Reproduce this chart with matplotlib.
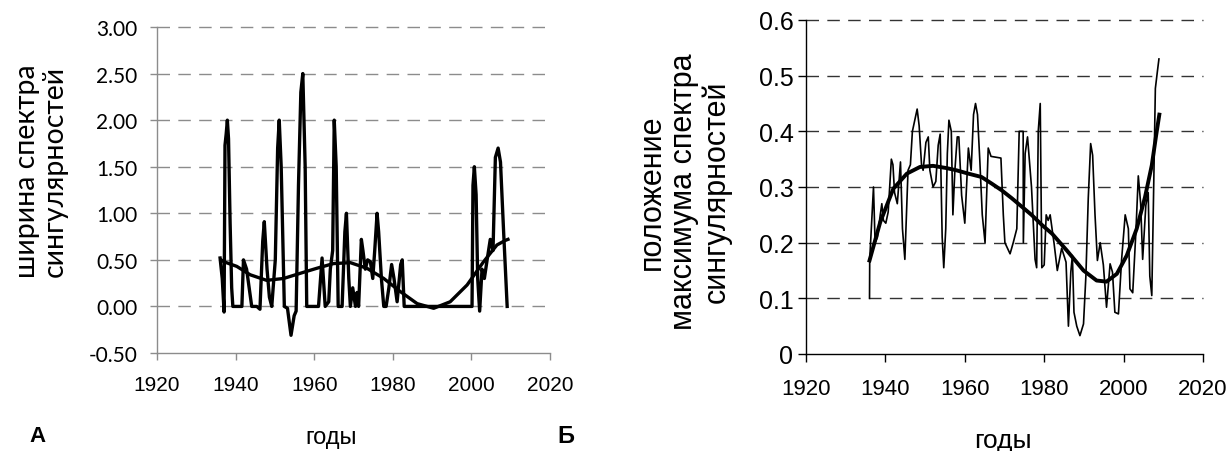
import matplotlib
matplotlib.use("Agg")
import matplotlib.pyplot as plt
import numpy as np

# ---- Panel A data (ширина спектра сингулярностей) ----
a_years = [1936.05, 1936.6, 1937.07, 1937.3, 1937.6, 1937.9, 1938.2, 1938.6, 1939.0, 1939.3,
           1941.6, 1942.0, 1942.8, 1944.1, 1945.4, 1946.2, 1946.9, 1947.3, 1948.0, 1948.6,
           1949.2, 1950.1, 1950.7, 1951.1, 1951.6, 1952.4, 1953.2, 1954.1, 1954.9, 1955.4,
           1956.0, 1956.6, 1957.1, 1957.7, 1958.1, 1961.1, 1962.0, 1962.8, 1963.7, 1964.1,
           1964.7, 1965.1, 1965.6, 1966.1, 1967.1, 1967.8, 1968.2, 1968.8, 1969.2, 1969.8,
           1970.5, 1970.9, 1971.3, 1972.0, 1972.4, 1973.0, 1973.6, 1974.3, 1974.9, 1975.4,
           1976.0, 1976.4, 1977.1, 1977.7, 1978.3, 1979.0, 1979.7, 1980.3, 1981.1, 1982.0,
           1982.4, 1982.9, 1990.0, 2000.16, 2000.4, 2000.75, 2001.2, 2001.6, 2002.1, 2002.7,
           2003.3, 2004.0, 2004.8, 2005.5, 2006.1, 2006.8, 2007.4, 2008.2, 2009.1]
a_values = [0.52, 0.30, -0.06, 1.73, 1.85, 2.00, 1.80, 0.90, 0.20, 0.00,
            0.00, 0.50, 0.40, 0.00, 0.00, -0.03, 0.70, 0.91, 0.40, 0.10,
            0.00, 0.50, 1.70, 2.00, 1.50, 0.00, -0.02, -0.31, -0.10, -0.05,
            1.30, 2.30, 2.50, 1.50, 0.00, 0.00, 0.52, 0.00, 0.05, 0.40,
            0.60, 2.00, 1.50, 0.00, 0.00, 0.80, 1.00, 0.30, 0.00, 0.20,
            0.00, 0.15, 0.00, 0.72, 0.60, 0.40, 0.50, 0.48, 0.30, 0.60,
            1.00, 0.80, 0.30, 0.00, 0.00, 0.20, 0.45, 0.30, 0.05, 0.45,
            0.50, 0.00, 0.00, 0.00, 1.30, 1.50, 1.20, 0.30, -0.05, 0.40,
            0.30, 0.50, 0.72, 0.60, 1.60, 1.70, 1.55, 0.80, 0.00]
a_trend_years = [1936.3, 1937, 1940.3, 1943.7, 1947.9, 1952.2, 1956.4, 1960.7, 1964.9, 1969.2,
                 1973.4, 1977.7, 1981.9, 1986.2, 1990.4, 1994.6, 1998.9, 2003.1, 2006.5, 2008.7, 2009.3]
a_trend_values = [0.50, 0.48, 0.43, 0.34, 0.28, 0.30, 0.355, 0.41, 0.46, 0.47,
                  0.41, 0.30, 0.16, 0.03, -0.02, 0.05, 0.23, 0.48, 0.66, 0.71, 0.72]

# ---- Panel Б data (положение максимума спектра сингулярностей) ----
b_years = [1936.0, 1936.05, 1937.0, 1937.4, 1938.0, 1938.7, 1939.1, 1939.5, 1940.1, 1940.7,
           1941.5, 1941.9, 1942.3, 1943.0, 1943.8, 1944.3, 1944.9, 1945.3, 1945.7, 1946.3,
           1946.8, 1947.4, 1948.0, 1948.5, 1949.1, 1949.5, 1950.2, 1950.8, 1951.2, 1952.0,
           1952.7, 1953.3, 1953.8, 1954.3, 1954.7, 1955.2, 1955.6, 1956.0, 1956.6, 1957.0,
           1957.5, 1958.1, 1958.5, 1959.2, 1960.0, 1960.9, 1961.6, 1962.2, 1962.7, 1963.2,
           1963.8, 1964.4, 1965.1, 1965.9, 1966.6, 1969.1, 1969.7, 1970.1, 1971.4, 1972.2,
           1973.1, 1973.7, 1974.7, 1974.75, 1975.2, 1975.8, 1976.8, 1977.7, 1978.1, 1978.5,
           1979.0, 1979.4, 1980.0, 1980.5, 1981.0, 1981.5, 1982.5, 1983.3, 1984.4, 1985.5,
           1986.1, 1986.7, 1987.1, 1987.5, 1988.2, 1989.0, 1989.9, 1990.5, 1991.1, 1991.7,
           1992.2, 1992.8, 1993.4, 1994.1, 1994.9, 1995.7, 1996.6, 1997.2, 1997.8, 1998.7,
           1999.5, 2000.4, 2001.2, 2001.6, 2002.3, 2003.1, 2003.7, 2004.3, 2004.8, 2005.6,
           2006.2, 2006.6, 2007.1, 2007.5, 2008.0, 2008.5, 2008.9]
b_values = [0.10, 0.17, 0.30, 0.20, 0.21, 0.25, 0.27, 0.24, 0.235, 0.255,
            0.35, 0.34, 0.29, 0.27, 0.345, 0.225, 0.17, 0.25, 0.33, 0.34,
            0.40, 0.42, 0.44, 0.41, 0.34, 0.33, 0.38, 0.39, 0.33, 0.30,
            0.31, 0.375, 0.395, 0.21, 0.155, 0.225, 0.36, 0.42, 0.40, 0.25,
            0.33, 0.39, 0.39, 0.285, 0.235, 0.37, 0.33, 0.43, 0.45, 0.43,
            0.345, 0.25, 0.20, 0.37, 0.355, 0.352, 0.25, 0.20, 0.18, 0.20,
            0.225, 0.40, 0.40, 0.20, 0.36, 0.39, 0.30, 0.17, 0.155, 0.40,
            0.45, 0.155, 0.16, 0.25, 0.24, 0.25, 0.198, 0.15, 0.19, 0.165,
            0.05, 0.147, 0.177, 0.075, 0.05, 0.033, 0.054, 0.14, 0.28, 0.378,
            0.357, 0.25, 0.168, 0.20, 0.16, 0.084, 0.162, 0.147, 0.075, 0.072,
            0.17, 0.25, 0.225, 0.117, 0.11, 0.22, 0.32, 0.27, 0.17, 0.267,
            0.29, 0.14, 0.105, 0.267, 0.477, 0.507, 0.53]
b_trend_years = [1936.0, 1938.7, 1942.0, 1945.4, 1948.7, 1952.0, 1955.4, 1957.9, 1960.9, 1964.2,
                 1966.8, 1969.3, 1971.8, 1974.3, 1976.8, 1979.4, 1982.0, 1985.7, 1989.9, 1993.2,
                 1995.7, 1998.3, 2000.8, 2003.3, 2005.4, 2007.1, 2008.2, 2009.0]
b_trend_values = [0.168, 0.237, 0.297, 0.324, 0.336, 0.338, 0.334, 0.33, 0.324, 0.318,
                  0.306, 0.294, 0.28, 0.265, 0.25, 0.232, 0.216, 0.186, 0.15, 0.132,
                  0.13, 0.144, 0.177, 0.225, 0.282, 0.339, 0.393, 0.43]

x_ticks = [1920, 1940, 1960, 1980, 2000, 2020]
a_yticks = [-0.5, 0.0, 0.5, 1.0, 1.5, 2.0, 2.5, 3.0]
b_yticks = [0, 0.1, 0.2, 0.3, 0.4, 0.5, 0.6]
b_yticklabels = ["0", "0.1", "0.2", "0.3", "0.4", "0.5", "0.6"]

W, H = 1232, 452
fig = plt.figure(figsize=(W / 100, H / 100), dpi=100)

ARIAL = "Liberation Sans"
CALIBRI = "Lato"

# ---- Panel A ----
axA = fig.add_axes([157 / W, 1 - 354 / H, 393 / W, 326 / H])
axA.plot(a_years, a_values, color="black", lw=2.4, solid_joinstyle="round", zorder=3)
axA.plot(a_trend_years, a_trend_values, color="black", lw=2.4, zorder=3)
axA.set_xlim(1920, 2020)
axA.set_ylim(-0.5, 3.0)
axA.set_xticks(x_ticks)
axA.set_yticks(a_yticks)
axA.set_yticklabels([f"{v:.2f}" for v in a_yticks], fontfamily=CALIBRI, fontsize=15)
axA.set_xticklabels([str(v) for v in x_ticks], fontfamily=ARIAL, fontsize=15)
for y in a_yticks[1:]:
    axA.axhline(y, color="#8c8c8c", lw=1.0, dashes=(9, 6), zorder=1, clip_on=False)
for s in ["top", "right"]:
    axA.spines[s].set_visible(False)
for s in ["left", "bottom"]:
    axA.spines[s].set_color("#8c8c8c")
    axA.spines[s].set_linewidth(1.0)
axA.tick_params(axis="both", direction="out", length=5, color="#8c8c8c", width=1.0)
axA.tick_params(axis="x", pad=11)
axA.tick_params(axis="y", pad=9)

# ---- Panel Б ----
axB = fig.add_axes([806 / W, 1 - 355 / H, 397 / W, 334 / H])
axB.plot(b_years, b_values, color="black", lw=1.2, zorder=3)
axB.plot(b_trend_years, b_trend_values, color="black", lw=2.8, zorder=4)
axB.set_xlim(1920, 2020)
axB.set_ylim(0, 0.6)
axB.set_xticks(x_ticks)
axB.set_yticks(b_yticks)
axB.set_yticklabels(b_yticklabels, fontfamily=ARIAL, fontsize=18)
axB.set_xticklabels([str(v) for v in x_ticks], fontfamily=ARIAL, fontsize=16)
for y in b_yticks[1:]:
    axB.axhline(y, color="#333333", lw=1.0, dashes=(9, 6), zorder=1, clip_on=False)
for s in ["top", "right"]:
    axB.spines[s].set_visible(False)
for s in ["left", "bottom"]:
    axB.spines[s].set_color("black")
    axB.spines[s].set_linewidth(1.0)
axB.tick_params(axis="both", direction="out", length=6, color="black", width=1.0)
axB.tick_params(axis="x", pad=11)
axB.tick_params(axis="y", pad=3)

# ---- Labels ----
fig.text(41 / W, 1 - 171 / H, "ширина спектра\nсингулярностей", rotation=90,
         ha="center", va="center", fontfamily=CALIBRI, fontsize=20.5,
         multialignment="center", linespacing=1.1)
fig.text(684 / W, 1 - 192 / H, "положение\nмаксимума спектра\nсингулярностей", rotation=90,
         ha="center", va="center", fontfamily=ARIAL, fontsize=22,
         multialignment="center", linespacing=1.1)
fig.text(331 / W, 1 - 438 / H, "годы", ha="center", va="center",
         fontfamily=ARIAL, fontsize=17)
fig.text(1003 / W, 1 - 441 / H, "годы", ha="center", va="center",
         fontfamily=ARIAL, fontsize=19)
fig.text(37 / W, 1 - 437 / H, "А", ha="center", va="center",
         fontfamily=ARIAL, fontsize=16, fontweight="bold")
fig.text(566 / W, 1 - 437 / H, "Б", ha="center", va="center",
         fontfamily=ARIAL, fontsize=17, fontweight="bold")

fig.savefig("out.png", dpi=100)
